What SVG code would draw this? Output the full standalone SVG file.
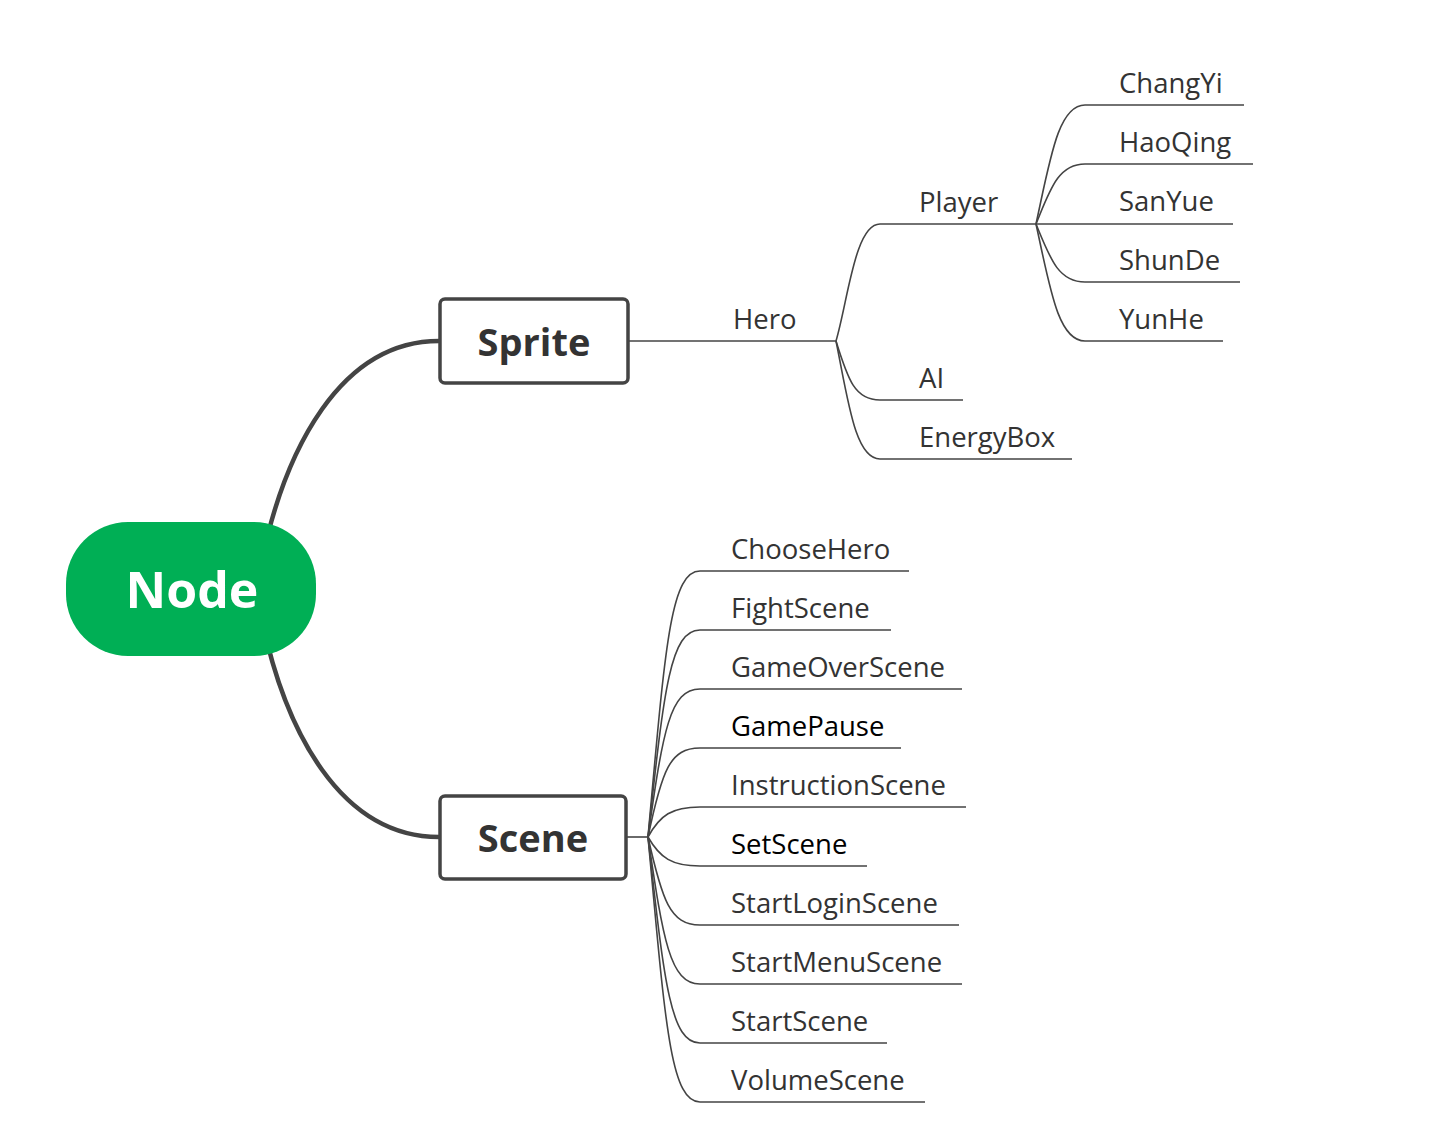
<svg xmlns="http://www.w3.org/2000/svg" width="1452" height="1142" viewBox="0 0 1452 1142">
<style>
.lbl{font-family:"Open Sans","Noto Sans","Liberation Sans",sans-serif;font-size:27.5px;fill:#333}
.dark{fill:#000}
.thin{fill:none;stroke:#444;stroke-width:1.6}
.thick{fill:none;stroke:#444;stroke-width:4.5}
.box{fill:#fff;stroke:#444;stroke-width:3.5}
.big{font-family:"Open Sans","Noto Sans","Liberation Sans",sans-serif;font-weight:bold;fill:#333;text-anchor:middle}
</style>
<rect width="1452" height="1142" fill="#fff"/>
<g id="connectors">
<path class="thick" d="M262,560 C285,450 340,341 439,341"/>
<path class="thick" d="M262,620 C285,730 340,837 439,837"/>
<path class="thin" d="M629,341 H836"/>
<path class="thin" d="M836,341 C848,300 855,224 880,224 H1036"/>
<path class="thin" d="M836,341 C848,380 855,400 880,400 H963"/>
<path class="thin" d="M836,341 C848,400 855,459 880,459 H1072"/>
<path class="thin" d="M1036,224 C1050,160 1058,105 1085,105 H1244"/>
<path class="thin" d="M1036,224 C1050,190 1058,164 1085,164 H1253"/>
<path class="thin" d="M1036,224 H1233"/>
<path class="thin" d="M1036,224 C1050,258 1058,282 1085,282 H1240"/>
<path class="thin" d="M1036,224 C1050,288 1058,341 1085,341 H1223"/>
<path class="thin" d="M627,837 H648"/>
<path class="thin" d="M648,837 C665,650 670,571 700,571 H909"/>
<path class="thin" d="M648,837 C664,690 670,630 700,630 H891"/>
<path class="thin" d="M648,837 C663,730 670,689 700,689 H962"/>
<path class="thin" d="M648,837 C662,770 670,748 700,748 H901"/>
<path class="thin" d="M648,837 C660,815 672,807 700,807 H966"/>
<path class="thin" d="M648,837 C660,858 672,866 700,866 H867"/>
<path class="thin" d="M648,837 C662,900 670,925 700,925 H959"/>
<path class="thin" d="M648,837 C663,940 670,984 700,984 H962"/>
<path class="thin" d="M648,837 C664,980 670,1043 700,1043 H887"/>
<path class="thin" d="M648,837 C665,1020 670,1102 700,1102 H925"/>
</g>
<g id="node-root">
<rect x="66" y="522" width="250" height="134" rx="62" fill="#00AF55"/>
<text x="192" y="608" class="big" style="fill:#fff;font-size:50px">Node</text>
</g>
<g id="node-sprite">
<rect class="box" x="440" y="299" width="188" height="84" rx="5"/>
<text x="534" y="356" class="big" style="font-size:38px">Sprite</text>
</g>
<g id="node-scene">
<rect class="box" x="440" y="796" width="186" height="83" rx="5"/>
<text x="533" y="852" class="big" style="font-size:38px">Scene</text>
</g>
<g id="node-hero"><text class="lbl" x="733" y="329">Hero</text></g>
<g id="node-player"><text class="lbl" x="919" y="212">Player</text></g>
<g id="node-ai"><text class="lbl" x="919" y="388">AI</text></g>
<g id="node-energybox"><text class="lbl" x="919" y="447">EnergyBox</text></g>
<g id="node-changyi"><text class="lbl" x="1119" y="93">ChangYi</text></g>
<g id="node-haoqing"><text class="lbl" x="1119" y="152">HaoQing</text></g>
<g id="node-sanyue"><text class="lbl" x="1119" y="211">SanYue</text></g>
<g id="node-shunde"><text class="lbl" x="1119" y="270">ShunDe</text></g>
<g id="node-yunhe"><text class="lbl" x="1119" y="329">YunHe</text></g>
<g id="node-choosehero"><text class="lbl" x="731" y="559">ChooseHero</text></g>
<g id="node-fightscene"><text class="lbl" x="731" y="618">FightScene</text></g>
<g id="node-gameoverscene"><text class="lbl" x="731" y="677">GameOverScene</text></g>
<g id="node-gamepause"><text class="lbl dark" x="731" y="736">GamePause</text></g>
<g id="node-instructionscene"><text class="lbl" x="731" y="795">InstructionScene</text></g>
<g id="node-setscene"><text class="lbl dark" x="731" y="854">SetScene</text></g>
<g id="node-startloginscene"><text class="lbl" x="731" y="913">StartLoginScene</text></g>
<g id="node-startmenuscene"><text class="lbl" x="731" y="972">StartMenuScene</text></g>
<g id="node-startscene"><text class="lbl" x="731" y="1031">StartScene</text></g>
<g id="node-volumescene"><text class="lbl" x="731" y="1090">VolumeScene</text></g>
</svg>
